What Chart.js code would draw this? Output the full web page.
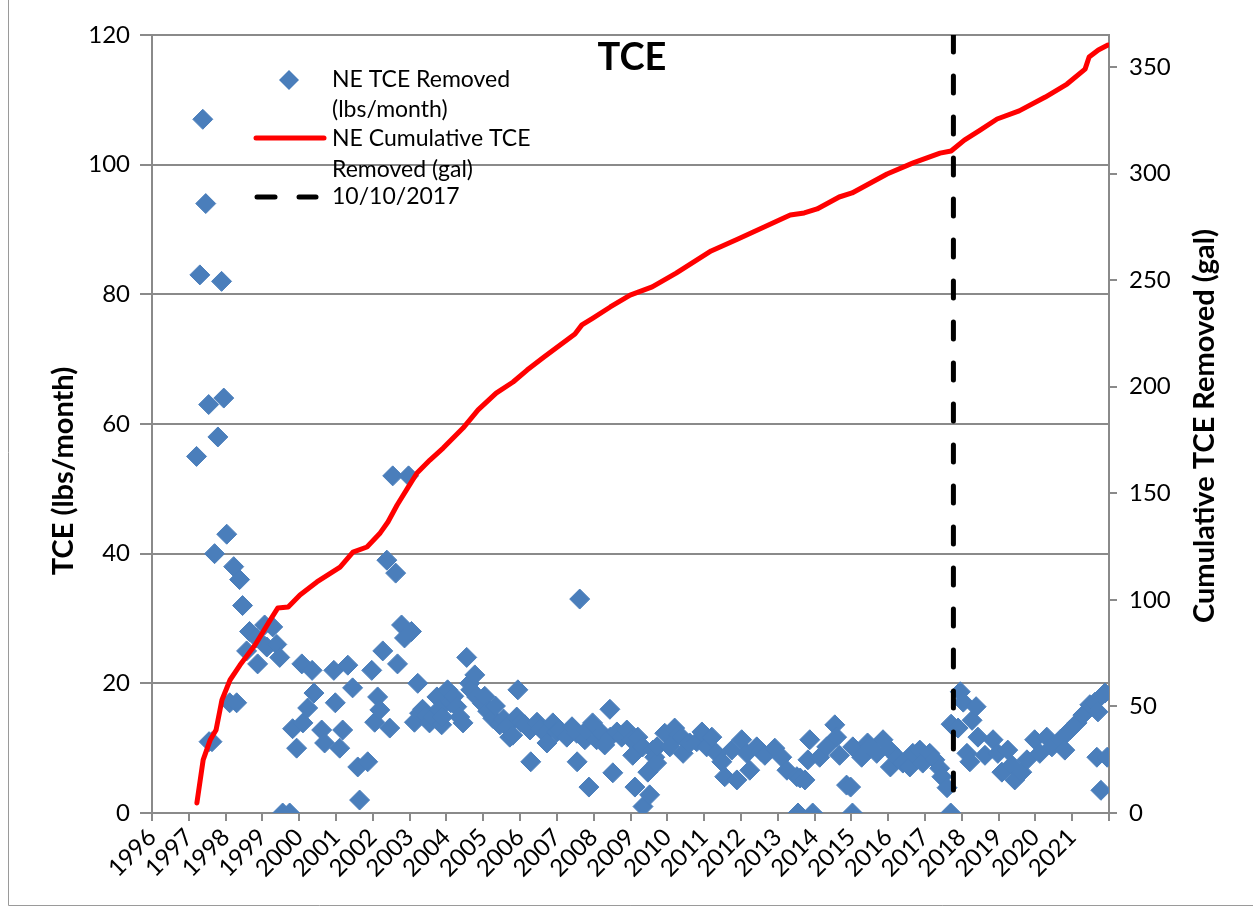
<!DOCTYPE html>
<html>
<head>
<meta charset="utf-8">
<script src="https://cdn.jsdelivr.net/npm/chart.js@4.4.1/dist/chart.umd.min.js"></script>
<style>
  html, body { margin: 0; padding: 0; background: #fff; }
  #wrap { width: 1253px; height: 907px; position: relative; }
</style>
</head>
<body>
<div id="wrap"><canvas id="grafico" width="1253" height="907"></canvas></div>
<script>
// monthly TCE removed (lbs/month), x = decimal year
let tceYears = [
  1997.21, 1997.30, 1997.38, 1997.46, 1997.54, 1997.55, 1997.63, 1997.70, 1997.79, 1997.89,
  1997.95, 1998.03, 1998.11, 1998.22, 1998.30, 1998.38, 1998.46, 1998.57, 1998.65, 1998.84,
  1998.87, 1999.06, 1999.12, 1999.28, 1999.39, 1999.47, 1999.55, 1999.74, 1999.82, 1999.93,
  2000.07, 2000.10, 2000.23, 2000.35, 2000.40, 2000.61, 2000.69, 2000.94, 2000.98, 2001.10,
  2001.18, 2001.32, 2001.45, 2001.59, 2001.64, 2001.86, 2001.97, 2002.05, 2002.13, 2002.19,
  2002.27, 2002.38, 2002.46, 2002.54, 2002.62, 2002.67, 2002.78, 2002.86, 2002.97, 2003.05,
  2003.13, 2003.22, 2003.27, 2003.35, 2003.45, 2003.54, 2003.63, 2003.74, 2003.80, 2003.87,
  2003.90, 2004.03, 2004.12, 2004.20, 2004.28, 2004.36, 2004.45, 2004.55, 2004.63, 2004.66,
  2004.77, 2004.82, 2004.98, 2005.04, 2005.12, 2005.26, 2005.33, 2005.45, 2005.55, 2005.64,
  2005.72, 2005.80, 2005.91, 2005.94, 2006.03, 2006.13, 2006.27, 2006.29, 2006.46, 2006.55,
  2006.68, 2006.73, 2006.89, 2007.00, 2007.08, 2007.27, 2007.41, 2007.54, 2007.55, 2007.62,
  2007.76, 2007.81, 2007.87, 2007.97, 2008.08, 2008.22, 2008.30, 2008.44, 2008.45, 2008.52,
  2008.63, 2008.76, 2008.90, 2009.03, 2009.06, 2009.12, 2009.20, 2009.33, 2009.34, 2009.47,
  2009.52, 2009.61, 2009.66, 2009.71, 2009.72, 2009.93, 2010.07, 2010.20, 2010.30, 2010.39,
  2010.43, 2010.61, 2010.80, 2010.94, 2011.07, 2011.21, 2011.34, 2011.48, 2011.56, 2011.75,
  2011.89, 2012.02, 2012.16, 2012.24, 2012.43, 2012.55, 2012.65, 2012.92, 2013.11, 2013.25,
  2013.52, 2013.55, 2013.61, 2013.74, 2013.82, 2013.87, 2013.95, 2014.14, 2014.33, 2014.55,
  2014.60, 2014.68, 2014.87, 2014.98, 2015.03, 2015.04, 2015.28, 2015.44, 2015.50, 2015.69,
  2015.86, 2016.05, 2016.06, 2016.24, 2016.40, 2016.59, 2016.67, 2016.86, 2016.94, 2017.13,
  2017.27, 2017.40, 2017.46, 2017.60, 2017.70, 2017.71, 2017.90, 2017.96, 2018.04, 2018.14,
  2018.22, 2018.28, 2018.39, 2018.44, 2018.63, 2018.85, 2018.98, 2019.09, 2019.25, 2019.36,
  2019.44, 2019.63, 2019.77, 2019.98, 2020.12, 2020.31, 2020.45, 2020.67, 2020.80, 2020.94,
  2021.13, 2021.29, 2021.48, 2021.62, 2021.67, 2021.70, 2021.78, 2021.89, 2021.95
];
let tceValues = [
  55, 83, 107, 94, 63, 11, 11, 40, 58, 82,
  64, 43, 17, 38, 17, 36, 32, 25, 28, 27,
  23, 29, 25.6, 28.7, 26, 24, 0, 0, 13, 10,
  23, 13.9, 16.2, 22, 18.5, 12.8, 10.8, 22, 17, 10,
  12.8, 22.8, 19.3, 7.1, 2, 7.9, 22, 14, 17.9, 15.9,
  25, 39, 13.1, 52, 37, 23, 29, 27, 52, 28,
  14, 20, 15.4, 16, 15, 13.9, 14.8, 17.9, 16, 13.6,
  14.8, 19, 17, 18, 16.4, 14.8, 13.9, 24, 20, 19,
  21.3, 17.9, 16.9, 18, 15.7, 14.6, 16.5, 13.6, 14.5, 13.3,
  11.7, 12, 14.8, 19, 14, 13.6, 12.8, 7.9, 14, 13,
  12.3, 10.8, 13.9, 12.5, 12.8, 11.7, 13.3, 12.3, 7.9, 33,
  11.3, 12.8, 4, 13.9, 11.3, 12.3, 10.5, 16, 11.7, 6.2,
  12.5, 11.7, 12.8, 11.3, 8.9, 4, 11.7, 10.2, 1, 6.3,
  2.8, 9.7, 8.6, 7.7, 10.2, 12.3, 10.2, 13.1, 12, 11.7,
  9.2, 10.8, 11, 12.5, 10.2, 11.7, 9.2, 7.9, 5.6, 9.7,
  5.1, 11.3, 9.2, 6.6, 10.2, 9.5, 8.9, 10, 8.6, 6.6,
  5.6, 0, 5.4, 5.1, 8.2, 11.3, 0, 8.6, 10.2, 13.6,
  11.7, 8.9, 4.3, 4, 0, 10.2, 8.6, 10.8, 10.2, 9.2,
  11.3, 9.7, 7.1, 8.6, 7.7, 7.1, 9.2, 9.7, 7.7, 9.2,
  8.2, 6.9, 5.6, 3.9, 0, 13.7, 13.1, 18.7, 17.1, 9.2,
  7.9, 14.3, 16.4, 11.7, 8.9, 11.3, 9.2, 6.3, 9.7, 7.4,
  5.1, 6.3, 8.2, 11.3, 9.2, 11.7, 10.2, 11.3, 9.7, 12.8,
  13.9, 15.1, 16.7, 17.1, 8.6, 15.6, 3.5, 18.5, 8.6
];

// cumulative TCE removed (gal)
let cumYears = [
  1997.22, 1997.39, 1997.58, 1997.74, 1997.90, 1998.12, 1998.39, 1998.80, 1999.21, 1999.42,
  1999.70, 2000.02, 2000.48, 2001.11, 2001.46, 2001.84, 2002.20, 2002.41, 2002.66, 2002.96,
  2003.20, 2003.55, 2003.91, 2004.45, 2004.86, 2005.35, 2005.81, 2006.19, 2006.65, 2007.49,
  2007.68, 2007.98, 2008.45, 2008.99, 2009.59, 2010.24, 2011.19, 2011.92, 2012.63, 2013.34,
  2013.72, 2014.07, 2014.67, 2015.02, 2015.97, 2016.68, 2017.41, 2017.71, 2018.07, 2018.50,
  2018.96, 2019.56, 2020.27, 2020.86, 2021.35, 2021.46, 2021.71, 2021.97
];
let cumValues = [
  4.7, 24.9, 34.2, 38.9, 53.0, 62.4, 69.4, 78.8, 90.5, 96.2,
  96.6, 102.3, 108.4, 115.4, 122.4, 124.8, 131.4, 136.5, 144.5, 152.9,
  159.5, 165.6, 171.2, 180.6, 189.1, 197.0, 202.2, 207.8, 213.9, 224.7,
  229.0, 232.2, 237.4, 243.0, 246.8, 253.3, 263.7, 269.3, 274.9, 280.6,
  281.5, 283.4, 289.0, 290.9, 299.8, 305.0, 309.6, 310.6, 315.7, 320.4,
  325.6, 329.4, 335.9, 342.0, 349.0, 354.7, 358.0, 360.3
];

let markerYear = 2017.773; // 10/10/2017
let yearTicks = [1996, 2022];
let tceTicks = [0, 120, 20];
let galTicks = [0, 365, 50];

const FONT = "Lato, 'Open Sans', 'DejaVu Sans', sans-serif";
const GRIS = "#8a8a8a";
const AZUL = "#4A7EBB";

// textos y leyenda dibujados a mano
const textos = {
  id: "textos",
  afterDraw(chart) {
    let ctx = chart.ctx;
    ctx.save();
    ctx.fillStyle = "#000";

    // titulo
    ctx.font = "bold 38px " + FONT;
    ctx.textAlign = "center";
    ctx.textBaseline = "middle";
    ctx.fillText("TCE", 632, 58);

    // titulos de ejes
    ctx.font = "bold 29px " + FONT;
    ctx.save();
    ctx.translate(64, 471);
    ctx.rotate(-Math.PI / 2);
    ctx.fillText("TCE (lbs/month)", 0, 0);
    ctx.restore();
    ctx.save();
    ctx.translate(1205, 426);
    ctx.rotate(-Math.PI / 2);
    ctx.fillText("Cumulative TCE Removed (gal)", 0, 0);
    ctx.restore();

    // leyenda
    ctx.fillStyle = AZUL;
    ctx.beginPath();
    ctx.moveTo(289, 70); ctx.lineTo(299, 80); ctx.lineTo(289, 90); ctx.lineTo(279, 80);
    ctx.closePath();
    ctx.fill();

    ctx.lineWidth = 5;
    ctx.lineCap = "round";
    ctx.strokeStyle = "#ff0000";
    ctx.beginPath(); ctx.moveTo(256, 138); ctx.lineTo(324, 138); ctx.stroke();

    ctx.strokeStyle = "#000";
    ctx.beginPath(); ctx.moveTo(257, 197); ctx.lineTo(275, 197); ctx.stroke();
    ctx.beginPath(); ctx.moveTo(299, 197); ctx.lineTo(316, 197); ctx.stroke();

    ctx.fillStyle = "#000";
    ctx.font = "23px " + FONT;
    ctx.textAlign = "left";
    ctx.fillText("NE TCE Removed", 332, 80);
    ctx.fillText("(lbs/month)", 332, 110);
    ctx.fillText("NE Cumulative TCE", 332, 139);
    ctx.fillText("Removed (gal)", 332, 170);
    ctx.fillText("10/10/2017", 332, 197);

    // borde del area del grafico
    ctx.strokeStyle = "#9a9a9a";
    ctx.lineWidth = 1;
    ctx.beginPath();
    ctx.moveTo(8.5, 0); ctx.lineTo(8.5, 905.5); ctx.lineTo(1253, 905.5);
    ctx.stroke();
    ctx.restore();
  }
};

let datosTCE = tceYears.map((x, i) => ({ x: x, y: tceValues[i] }));
let datosCum = cumYears.map((x, i) => ({ x: x, y: cumValues[i] }));
let datosFecha = [{ x: markerYear, y: tceTicks[1] }, { x: markerYear, y: 0 }];

new Chart(document.getElementById("grafico").getContext("2d"), {
  type: "scatter",
  data: {
    datasets: [
      {
        label: "10/10/2017", data: datosFecha, yAxisID: "y", showLine: true,
        borderColor: "#000", borderWidth: 5, borderDash: [17, 24], borderCapStyle: "round",
        pointRadius: 0, order: 0
      },
      {
        label: "NE Cumulative TCE Removed (gal)", data: datosCum, yAxisID: "y2", showLine: true,
        borderColor: "#ff0000", borderWidth: 5, borderCapStyle: "round", borderJoinStyle: "round",
        tension: 0, pointRadius: 0, order: 1
      },
      {
        label: "NE TCE Removed (lbs/month)", data: datosTCE, yAxisID: "y",
        pointStyle: "rectRot", pointRadius: 10, backgroundColor: AZUL, borderColor: AZUL,
        borderWidth: 1, order: 2
      }
    ]
  },
  options: {
    responsive: false,
    animation: false,
    devicePixelRatio: 1,
    layout: { padding: { top: 35, left: 0, right: 0, bottom: 0 } },
    plugins: { legend: { display: false }, tooltip: { enabled: false } },
    scales: {
      x: {
        type: "linear", position: "bottom", min: yearTicks[0], max: yearTicks[1],
        afterFit: (s) => { s.height = 94; },
        grid: { drawOnChartArea: false, color: GRIS, lineWidth: 2, tickLength: 8 },
        border: { color: GRIS, width: 2 },
        ticks: {
          stepSize: 1, autoSkip: false, minRotation: 45, maxRotation: 45, padding: 2,
          color: "#000", font: { family: FONT, size: 24 },
          callback: (v) => (v >= yearTicks[1] ? "" : String(v))
        }
      },
      y: {
        position: "left", min: tceTicks[0], max: tceTicks[1],
        afterFit: (s) => { s.width = 152; },
        grid: { color: GRIS, lineWidth: 2, tickLength: 12 },
        border: { color: GRIS, width: 2 },
        ticks: { stepSize: tceTicks[2], padding: 10, color: "#000", font: { family: FONT, size: 24 } }
      },
      y2: {
        position: "right", min: galTicks[0], max: galTicks[1],
        afterFit: (s) => { s.width = 144; },
        afterBuildTicks: (s) => { s.ticks = s.ticks.filter(t => t.value % galTicks[2] === 0); },
        grid: { drawOnChartArea: false, color: GRIS, lineWidth: 2, tickLength: 8 },
        border: { color: GRIS, width: 2 },
        ticks: { stepSize: galTicks[2], padding: 12, color: "#000", font: { family: FONT, size: 24 } }
      }
    }
  },
  plugins: [textos]
});
</script>
</body>
</html>
